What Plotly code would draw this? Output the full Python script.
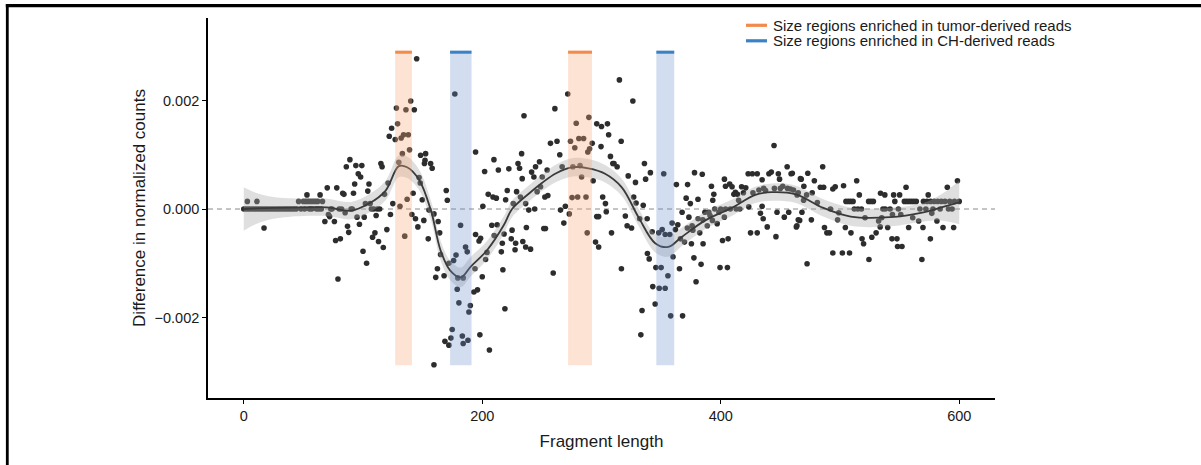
import plotly.graph_objects as go

# ---------------- data ----------------
frag_len = [
    0, 2, 3, 4, 6, 8, 10, 11, 12, 14, 16, 17, 18, 20, 22, 24, 26, 28, 30, 32,
    34, 36, 38, 40, 42, 44, 46, 48, 50, 51, 52, 53, 54, 55, 56, 57, 58, 60, 61, 62,
    63, 64, 65, 66,
    68, 70, 71, 72, 73, 74, 76, 77, 78, 79, 80, 81, 82, 83, 84, 85, 86, 87, 88, 89,
    90, 91, 92, 93, 94, 95, 96, 97, 98, 99, 100, 101, 102, 103, 104, 105, 106, 107, 108, 109,
    110, 111, 112, 113, 114, 115, 116, 117, 118, 120, 121, 122, 123, 124, 125,
    127, 128, 129, 130, 131, 132, 133, 134, 135, 136, 137, 138, 139, 140, 141, 142, 143, 144, 145, 146,
    147, 148,
    148.3, 149.7, 151, 151.5, 152, 152.5, 154.7, 155.3, 156.7, 158, 159.5, 159.5, 161, 162.4, 163, 164.3, 165, 168, 168.7, 169.8,
    170.7, 172, 172, 173.7, 174.8, 176, 177, 178, 179, 179.5, 180.4, 181.8, 183.3, 184, 184, 186, 187.4, 188, 188.8, 190,
    193, 193.9, 194.4, 194.4, 196, 197.3, 198, 198.6, 200, 200.5, 202, 202.8, 204, 205, 206, 208, 209, 209.8, 210, 211.8,
    212.5, 213.5, 216, 216.8, 217.3, 218.3, 219, 219.6, 221, 222.3, 224.3, 225, 226, 227.5, 228, 228.8, 230, 231.3, 232, 233,
    233.5, 234, 235, 236.4, 236.4, 237, 239, 240.5, 241.4, 243.3, 244, 244.7, 246, 248, 248.9, 250.3, 251.6, 252.5, 253, 254.4,
    255, 257.2, 259.5, 260.9, 262.7, 265, 265.6, 267, 268.4, 269.7, 271.7, 273, 274, 275.3, 276, 277.6, 278.8, 280, 281, 282,
    283.3, 285, 287, 288, 288.5, 289.4, 290, 292.2, 293, 295, 296, 296, 297.6, 297.6, 299.6, 300, 301, 303.3, 304, 305,
    306, 307.5, 308.4, 309.5, 310.5, 313.1, 315, 316.5, 316.7, 320, 321.5, 322.4, 325.2, 326.3, 327, 328.5, 329, 332, 333, 334,
    335, 336, 337, 338.3, 338.5, 340, 341, 342.5, 343, 345, 345.6, 348, 348.4, 350, 350.9, 352.2, 353.4, 353.4, 355.7, 357.3,
    358, 359.2, 360, 362, 362.8, 364, 365.4, 366.2, 367.6, 368, 369.6, 371, 372.2, 373.3, 374.5, 375.4, 376.6, 377.5, 378, 379.3,
    380.9, 382.4, 383.5, 384.5, 385.2, 386.7, 388.7, 390, 392.2, 393, 393.3, 394.2, 397, 398.5, 399.4, 401.5, 403, 403.1, 404, 405.6,
    406.2, 407.5, 409.5, 412.3, 415, 417.5, 421, 423, 423.5, 425, 426.5, 430.6, 430.6, 433.3, 434.7, 434.7, 435.6, 437.6, 439, 440.4,
    442.4, 444.7, 446.3, 447.2, 448.3, 449.3, 453.3, 455.7, 457, 459, 463.4, 466.2, 467.5, 468.1, 469.7,
    411, 414, 419, 427, 432, 436, 445, 450, 452, 456, 461, 465,
    372, 376, 381, 385, 391, 395, 400, 404, 408, 413, 416,
    458.4, 460, 464, 463.9, 465, 466.8, 469.5, 472, 472.4, 473, 476, 476.7, 478.5, 483.5, 485.5, 486.3, 487, 489, 491.2, 494,
    494, 496, 498, 502, 503, 504.5, 505, 507, 508, 509, 509.2, 511, 512, 514, 515, 516.2, 518, 518.5, 519.8, 524,
    524.3, 526, 526.7, 528, 530.3, 532.4, 533.7, 534, 536, 537.6, 538, 540, 542, 543.6, 545, 546, 547.8, 548.3, 549, 550,
    552, 554, 555.4, 556, 557.6, 558, 560, 562, 564, 566, 568.7, 569.6, 570, 572, 573, 574, 575.8, 576, 578, 579,
    581.3, 582, 584, 585, 586.4, 588, 590, 591, 592, 594, 595.3, 596, 598.5, 600,
    481, 492, 499, 521, 535, 544, 551, 561, 567, 577,
]

diff = [
    0, 0, 0.00014, 0, 0, 0, 0, 0.00014, 0, 0, 0, -0.00035, 0, 0, 0, 0, 0, 0, 0, 0,
    0, 0, 0, 0, 0, 0, 0.00014, 0, 0.00014, 0, 0.00014, 0.00026, 0.00014, 0, 0.00014, 0, 0.00014, 0.00014, 0, 0.00014,
    0, 0.00026, 0, 0.00014,
    -0.00023, 0.00039, -0.0001, -0.00014, 0, 0, -0.00023, -0.00058, 0.00039, -0.00129, 0, -0.00055, 0, 0.00029, 0.00027, -0.00007, 0.00078, -0.00032, -0.00043, 0.00091,
    0, 0, 0.00029, 0.00046, 0.0008, -0.00015, 0.00065, -0.00028, 0.00059, 0.0008, -0.00078, -0.00015, 0.0001, -0.001, 0.00033, 0.00046, 0.0001, 0, -0.00052, 0,
    -0.00044, -0.00012, 0, -0.0006, 0, 0.00084, 0.00078, -0.00071, 0.00027, -0.00038, 0.00048, 0.00134, -0.0001, 0.00149, 0.0001,
    0.00128, 0.00186, 0.00157, 0.00086, 0.00005, 0.00131, 0.00102, 0.00137, -0.0005, 0.00183, 0.00018, 0.00137, 0.00109, 0.00199, -0.0001, 0.00029, 0.00183, -0.00018, 0.00277, -0.00033,
    0.00058, 0.00048,
    0.00099, 0.00017, -0.00021, 0.00084, 0.0009, 0.00102, -0.00055, -0.00002, 0.00084, 0.00075, -0.00009, -0.00287, -0.00126, -0.0011, -0.00023, -0.00044, -0.00084, -0.00123, -0.00244, 0.00034,
    0.00016, -0.001, -0.00251, -0.00238, -0.00222, -0.00095, 0.00212, -0.00085, -0.00148, -0.00127, -0.00173, -0.0003, -0.00234, -0.00127, -0.00248, -0.0007, -0.00079, -0.00242, -0.0019, -0.00178,
    -0.00153, -0.0011, -0.00047, 0.00105, -0.00149, -0.00059, -0.00232, -0.00054, -0.00125, 0.00005, 0.00069, -0.00093, -0.0008, 0.00027, -0.0026, -0.0003, 0.00022, 0.00091, -0.00049, 0.0002,
    -0.00029, 0.00072, -0.00079, -0.00063, -0.00112, -0.00046, -0.00184, 0.00017, 0.00034, 0.00074, -0.00055, -0.00039, 0.0001, -0.00075, -0.00063, 0.00032, 0.00084, 0.00075, 0.00022, 0.00102,
    0.00056, -0.0006, 0.00172, -0.0007, 0.0001, -0.00034, -0.00002, -0.00074, 0.00068, 0.00059, 0, 0.00078, 0.00032, 0.00087, 0.00041, 0.00059, -0.00036, 0.00022, -0.00036, 0.00072,
    0.00025, 0.00121, -0.00118, 0.00185, 0.00125, 0.001, -0.00002, 0.00078, -0.00026, 0.00005, 0.00212, -0.00009, 0.00125, 0.00021, 0.00078, 0.00113, 0.00158, 0.00022, 0.0013, 0.0008,
    0.00059, 0.0013, 0.00022, -0.00044, 0.00105, 0.00169, 0.00111, 0.00121, 0.00052, -0.00061, 0.00157, -0.00014, -0.0007, -0.00014, 0.00115, 0.00152, 0.00022, 0.0001, -0.00005, 0.00157,
    0.00137, 0.00097, -0.00044, 0.00084, 0.00084, 0.00078, 0.00238, 0.00125, -0.0011, -0.00013, -0.00031, 0.00061, -0.00035, 0.00199, 0.00022, 0.00049, 0.00011, -0.00018, -0.00232, -0.00187,
    0.00007, 0.00084, 0.00055, -0.00018, -0.00082, -0.00092, 0.00067, -0.00042, -0.00143, -0.00175, -0.00108, -0.00044, -0.00146, -0.00108, -0.00038, 0.00065, -0.00146, -0.00047, -0.00123, -0.00047,
    -0.00197, -0.00026, -0.00088, -0.00038, 0.00045, -0.00029, -0.0011, -0.00055, -0.00006, -0.00197, -0.00061, 0.0002, 0.00045, -0.00015, 0.0001, -0.00064, -0.00039, -0.0009, 0.00067, -0.00134,
    0.00018, -0.00044, -0.00102, 0.00064, -0.00064, -0.00006, -0.00031, -0.00006, 0.00042, -0.00021, 0.00016, 0.00027, -0.00027, -0.00006, -0.00108, -0.00058, -0.00015, 0.00055, 0.00042, -0.00108,
    -0.00055, 0.00046, 0.00041, 0.00031, 0.00016, 0.00041, 0.00039, 0.00065, 0.00004, -0.00044, 0.00065, 0.00065, -0.00044, -0.00008, 0.00054, 0.00005, -0.00018, 0.00034, -0.00033, 0.00065,
    0.00068, 0.00117, -0.00051, -0.00006, 0.00065, 0.00055, -0.00015, 0.00078, -0.00006, 0.00065, -0.00033, -0.00021, 0.00055, -0.00006, 0.00042,
    0.00027, 0.00027, 0.0003, 0.0003, 0.00035, 0.00038, 0.00038, 0.00038, 0.00042, 0.00038, 0.00035, 0.0003,
    -0.00035, -0.00031, -0.00018, -0.0002, -0.00012, 0, 0, 0, 0, 0, 0,
    0.00037, 0.00066, 0.00026, -0.00031, -0.0002, 0.00056, 0.00016, 0.00026, -0.00101, 0.00066, -0.0002, 0.0003, 0.00052, 0.0004, 0.00078, 0.0004, -0.00034, -0.00044, -0.00044, 0.00037,
    -0.00081, 0.00041, -0.0002, -0.00081, 0.00043, -0.00034, 0.00014, 0.00014, -0.00081, 0.00014, -0.00044, 0.00014, 0, 0.00052, 0, 0.00026, 0, -0.00055, -0.00064, 0.00014,
    -0.00093, 0.00014, -0.00052, 0.00014, -0.00044, -0.00022, -0.00033, 0.00029, 0, 0.00026, 0, -0.00034, 0, -0.00055, 0.00026, 0.00014, -0.00055, -0.00069, 0, 0.00026,
    -0.00069, 0.00014, 0.0004, 0.00014, -0.00034, 0.00014, 0.00014, 0.00014, 0.00014, -0.00022, -0.00093, -0.00034, 0.00014, 0, 0.00014, 0.00026, -0.00055, 0.00014, 0, 0.00014,
    -0.00022, 0.00014, 0, 0.00014, -0.00034, 0.00014, 0.0004, 0, 0.00014, 0, -0.00034, 0.00014, 0.00052, 0.00014,
    0.00012, 0, -0.00007, -0.00016, -0.00016, -0.0001, -0.0001, -0.00016, 0, -0.00008,
]

# loess smooth and its confidence half-width
smooth_x = [0, 10, 25, 50, 70, 90, 105, 119, 130, 137,
            147, 157, 165, 173, 182, 190, 204, 218, 225, 240,
            250, 262, 276, 289, 303, 317, 331, 345, 356, 367,
            387, 410, 429, 443, 463, 486, 509, 542, 570, 585,
            600]
smooth_y = [0.0, 0.00001, 0.00002, 0.00003, 0.00003, -0.00003, 0.0001, 0.00034, 0.00079, 0.00077,
            0.00054, -0.00003, -0.00076, -0.00113, -0.00126, -0.00107, -0.00076, -0.0003, 0.0, 0.0003,
            0.00048, 0.00066, 0.00077, 0.00075, 0.00065, 0.0004, -0.00015, -0.00063, -0.0007, -0.00052,
            -0.00021, 0.00003, 0.00026, 0.00031, 0.00027, 0.00002, -0.00014, -0.00015, -0.00006, 0.00003,
            0.00012]
smooth_half = [0.0004, 0.00029, 0.0002, 0.00016, 0.00016, 0.00016, 0.00017, 0.00018, 0.0002, 0.0002,
               0.00019, 0.00018, 0.00018, 0.00018, 0.00018, 0.00018, 0.00017, 0.00016, 0.00015, 0.00015,
               0.00015, 0.00016, 0.00017, 0.00017, 0.00016, 0.00016, 0.00016, 0.00017, 0.00018, 0.00017,
               0.00016, 0.00015, 0.00015, 0.00016, 0.00016, 0.00016, 0.00017, 0.00017, 0.00017, 0.00024,
               0.0004]

# highlighted size regions
region_start = [127, 173, 272, 346]
region_end = [141, 191, 292, 361]
region_kind = ["tumor", "CH", "tumor", "CH"]
region_bottom = -0.00288
region_top = 0.00292

legend_labels = {"tumor": "Size regions enriched in tumor-derived reads",
                 "CH": "Size regions enriched in CH-derived reads"}

x_ticks = [0, 200, 400, 600]
y_ticks = [-0.002, 0.0, 0.002]
y_ticktext = ["\u22120.002", "0.000", "0.002"]

assert len(frag_len) == len(diff)
assert len(smooth_x) == len(smooth_y) == len(smooth_half)

# ---------------- styling ----------------
band_fill = {"tumor": "rgba(250,168,118,0.32)", "CH": "rgba(100,140,205,0.29)"}
bar_color = {"tumor": "#f28a4c", "CH": "#3a82c4"}
FONT = "Liberation Sans, Arial, Helvetica, sans-serif"

L, R, T, B = 208, 206, 18, 67
W, H = 1201, 465
PW, PH = W - L - R, H - T - B


def px_to_paper_x(px):
    return (px - L) / PW


def px_to_paper_y(py):
    return (H - B - py) / PH


fig = go.Figure()

fig.add_trace(go.Scatter(
    x=frag_len, y=diff, mode="markers",
    marker=dict(color="#2d2d2d", size=5.6, line=dict(width=0)),
    hoverinfo="skip", showlegend=False))

lower = [m - h for m, h in zip(smooth_y, smooth_half)]
upper = [m + h for m, h in zip(smooth_y, smooth_half)]
fig.add_trace(go.Scatter(
    x=smooth_x, y=lower, mode="lines", line=dict(width=0, shape="spline", smoothing=1.0),
    hoverinfo="skip", showlegend=False))
fig.add_trace(go.Scatter(
    x=smooth_x, y=upper, mode="lines", line=dict(width=0, shape="spline", smoothing=1.0),
    fill="tonexty", fillcolor="rgba(165,165,165,0.36)",
    hoverinfo="skip", showlegend=False))
fig.add_trace(go.Scatter(
    x=smooth_x, y=smooth_y, mode="lines",
    line=dict(color="#3a3a3a", width=1.8, shape="spline", smoothing=1.0),
    hoverinfo="skip", showlegend=False))

shapes = []
# dashed zero line
shapes.append(dict(type="line", xref="paper", yref="y", x0=0, x1=1, y0=0, y1=0,
                   line=dict(color="#8a8a8a", width=1, dash="5px,4px"), layer="below"))
# highlighted regions
for s, e, k in zip(region_start, region_end, region_kind):
    shapes.append(dict(type="rect", xref="x", yref="y", x0=s, x1=e,
                       y0=region_bottom, y1=region_top,
                       fillcolor=band_fill[k], line=dict(width=0), layer="above"))
    shapes.append(dict(type="line", xref="x", yref="y", x0=s, x1=e,
                       y0=region_top - 0.00003, y1=region_top - 0.00003,
                       line=dict(color=bar_color[k], width=3), layer="above"))
# outer frame (top and left)
shapes.append(dict(type="rect", xref="paper", yref="paper",
                   x0=px_to_paper_x(5.8), x1=px_to_paper_x(W + 2),
                   y0=px_to_paper_y(7.3), y1=px_to_paper_y(4.1),
                   fillcolor="black", line=dict(width=0), layer="above"))
shapes.append(dict(type="rect", xref="paper", yref="paper",
                   x0=px_to_paper_x(5.9), x1=px_to_paper_x(8.7),
                   y0=px_to_paper_y(H + 2), y1=px_to_paper_y(4.1),
                   fillcolor="black", line=dict(width=0), layer="above"))

# legend (drawn manually to match spacing)
annotations = []
leg_y = [25.3, 40.8]
for k, yy in zip(["tumor", "CH"], leg_y):
    shapes.append(dict(type="line", xref="paper", yref="paper",
                       x0=px_to_paper_x(746), x1=px_to_paper_x(767),
                       y0=px_to_paper_y(yy), y1=px_to_paper_y(yy),
                       line=dict(color=bar_color[k], width=3.2), layer="above"))
    annotations.append(dict(xref="paper", yref="paper", x=px_to_paper_x(771), y=px_to_paper_y(yy),
                            xanchor="left", yanchor="middle", showarrow=False,
                            text=legend_labels[k], font=dict(size=15, color="#1a1a1a", family=FONT)))

fig.update_layout(
    width=W, height=H,
    margin=dict(l=L, r=R, t=T, b=B, pad=0),
    paper_bgcolor="white", plot_bgcolor="white",
    font=dict(family=FONT, color="#1a1a1a"),
    showlegend=False,
    shapes=shapes, annotations=annotations,
)
fig.update_xaxes(
    range=[-30, 630], tickvals=x_ticks, ticktext=[str(v) for v in x_ticks],
    showgrid=False, zeroline=False, showline=True, linecolor="black", linewidth=1.6,
    ticks="outside", ticklen=4, tickwidth=1.4, tickcolor="black",
    tickfont=dict(size=14.5, color="#1a1a1a", family=FONT),
    title=dict(text="Fragment length", font=dict(size=17, color="#1a1a1a", family=FONT), standoff=12),
)
fig.update_yaxes(
    range=[-0.003484, 0.003521], tickvals=y_ticks, ticktext=y_ticktext,
    showgrid=False, zeroline=False, showline=True, linecolor="black", linewidth=1.6,
    ticks="outside", ticklen=4, tickwidth=1.4, tickcolor="black",
    tickfont=dict(size=14.5, color="#1a1a1a", family=FONT),
    title=dict(text="Difference in normalized counts", font=dict(size=17, color="#1a1a1a", family=FONT), standoff=5),
)

fig.write_html("out.html", config={"displayModeBar": False},
               post_script="document.body.style.margin='0';document.body.style.overflow='hidden';")
